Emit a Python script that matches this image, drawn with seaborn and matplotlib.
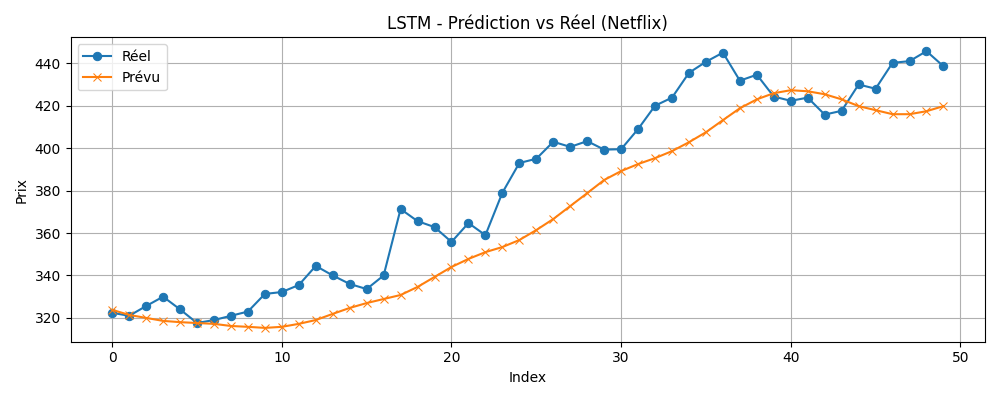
import seaborn as sns
import pandas as pd
from matplotlib import pyplot as plt

reel = [322.4, 321.0, 325.6, 330.0, 324.0, 317.6, 319.0, 321.0, 323.0, 331.3,
        332.2, 335.5, 344.5, 340.0, 336.0, 333.6, 340.0, 371.3, 365.6, 362.8,
        355.8, 364.7, 359.0, 379.0, 393.0, 395.0, 403.0, 400.6, 403.3, 399.3,
        399.5, 409.0, 420.0, 423.8, 435.5, 440.7, 445.0, 431.8, 434.6, 424.3,
        422.3, 423.8, 415.8, 417.6, 430.0, 428.0, 440.2, 441.0, 445.7, 438.6]
prevu = [323.8, 321.4, 320.0, 318.6, 318.0, 317.6, 317.2, 316.2, 315.8, 315.3,
         315.8, 317.2, 319.0, 321.9, 324.7, 327.0, 328.9, 330.8, 334.6, 339.3,
         344.0, 347.8, 351.0, 353.4, 356.7, 361.4, 366.6, 372.7, 378.8, 385.0,
         389.2, 392.5, 395.3, 398.6, 402.8, 407.5, 413.2, 418.8, 423.0, 425.9,
         427.3, 426.8, 425.4, 423.0, 419.8, 417.9, 416.0, 416.0, 417.4, 419.8]

df = pd.DataFrame({'Index': range(len(reel)), 'Réel': reel, 'Prévu': prevu})

fig, ax = plt.subplots(figsize=(10, 4), dpi=100)
sns.lineplot(x='Index', y='Réel', data=df, marker='o', markeredgecolor='#1f77b4',
             color='#1f77b4', label='Réel', ax=ax)
sns.lineplot(x='Index', y='Prévu', data=df, marker='x', markeredgecolor='#ff7f0e',
             color='#ff7f0e', label='Prévu', ax=ax)
ax.set_title('LSTM - Prédiction vs Réel (Netflix)')
ax.set_xlabel('Index')
ax.set_ylabel('Prix')
ax.grid(True)
ax.legend(loc='upper left')
plt.tight_layout()
plt.savefig('out.png')
